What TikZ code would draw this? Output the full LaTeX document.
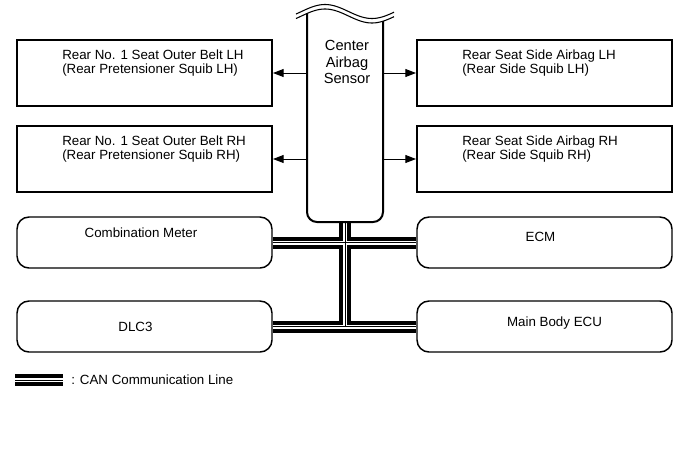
\documentclass[tikz,border=0pt]{standalone}
\usepackage{fontspec}
\setmainfont{Liberation Sans}
\usetikzlibrary{positioning, arrows.meta}

\begin{document}
\begin{tikzpicture}
	[x=0.75pt, y=-0.75pt,
	 box/.style={draw, line width=1.5pt, minimum width=191.25pt, minimum height=49.5pt},
	 unit/.style={draw, line width=1.1pt, rounded corners=9pt, minimum width=191.25pt, minimum height=38.25pt},
	 txt/.style={inner sep=0, anchor=north west, align=left, font=\fontsize{10}{10.5}\selectfont},
	 lbl/.style={inner sep=0, text height=7.2pt, text depth=0pt, font=\fontsize{10}{12}\selectfont},
	 sig/.style={line width=0.75pt, -{Triangle[length=8pt, width=6pt]}}]
   \useasboundingbox (0,0) rectangle (691,465);

   \node[box] (seat_lh) at (144.5,73) {};
   \node[box] (seat_rh) [below=13.5pt of seat_lh] {};
   \node[box] (side_lh) [right=107.25pt of seat_lh] {};
   \node[box] (side_rh) [below=13.5pt of side_lh] {};
   \node[unit] (meter) [below=17.45pt of seat_rh] {};
   \node[unit] (dlc) [below=23.65pt of meter] {};
   \node[unit] (ecm) [right=107.65pt of meter] {};
   \node[unit] (mb_ecu) [right=107.65pt of dlc] {};
   \node[outer sep=0, minimum width=57pt, minimum height=156.4pt] (cas) at (345,117.75) {};

   \node[txt] (seat_lh_txt) at ([shift={(46,11)}]seat_lh.north west) {Rear No. 1 Seat Outer Belt LH\\(Rear Pretensioner Squib LH)};
   \node[txt] (seat_rh_txt) at ([shift={(46,11)}]seat_rh.north west) {Rear No. 1 Seat Outer Belt RH\\(Rear Pretensioner Squib RH)};
   \node[txt] (side_lh_txt) at ([shift={(46,11)}]side_lh.north west) {Rear Seat Side Airbag LH\\(Rear Side Squib LH)};
   \node[txt] (side_rh_txt) at ([shift={(46,11)}]side_rh.north west) {Rear Seat Side Airbag RH\\(Rear Side Squib RH)};
   \node[lbl] (meter_txt) at ([shift={(-3.5,-9.5)}]meter.center) {Combination Meter};
   \node[lbl] (ecm_txt) at ([shift={(-4,-6)}]ecm.center) {ECM};
   \node[lbl] (dlc_txt) at ([shift={(-9,0)}]dlc.center) {DLC3};
   \node[lbl] (mb_ecu_txt) at ([shift={(10,-4.5)}]mb_ecu.center) {Main Body ECU};
   \node[inner sep=0, anchor=north, align=center, font=\fontsize{11}{12.5}\selectfont] (cas_txt) at ([shift={(2,26.5)}]cas.north) {Center\\Airbag\\Sensor};

   % legend
   \coordinate (leg_a) at (15,380);
   \coordinate (leg_b) at (63,380);
   \node[lbl, right=6pt of leg_b] (leg_txt) {: CAN Communication Line};

   % CAN lines
   \foreach \w/\c in {9pt/black, 3pt/white, 0.75pt/black}
     \draw[line width=\w, draw=\c] (cas.south) -- (cas.south |- dlc.east)
       (meter.east) -- (ecm.west) (dlc.east) -- (mb_ecu.west) (leg_a) -- (leg_b);

   % sensor outline with cut top
   \draw[line width=1.5pt, rounded corners=7.5pt] (cas.north west) -- (cas.south west)
     -- (cas.south east) -- ([yshift=-5.8pt]cas.north east);
   \foreach \m in {16, 11.5}
     \draw[line width=0.8pt] plot[domain=296:394, samples=50, smooth] (\x, {\m-7*cos(3.83*(\x-325))});

    \path[sig]
    (cas.west |- seat_lh.east) edge (seat_lh.east)
    (cas.west |- seat_rh.east) edge (seat_rh.east)
    (cas.east |- side_lh.west) edge (side_lh.west)
    (cas.east |- side_rh.west) edge (side_rh.west);

\end{tikzpicture}
\end{document}
